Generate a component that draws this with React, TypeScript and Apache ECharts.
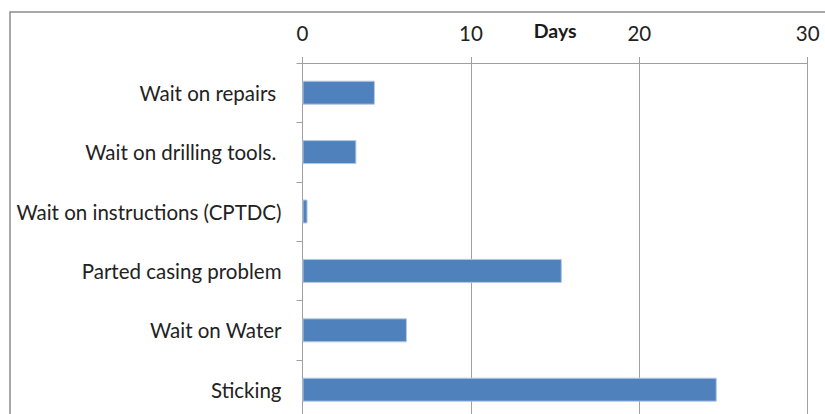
import React, { useEffect, useRef } from "react";
import * as echarts from "echarts";

const categories = [
  "Wait on repairs ",
  "Wait on drilling tools. ",
  "Wait on instructions (CPTDC)",
  "Parted casing problem",
  "Wait on Water",
  "Sticking",
];
const days = [4.3, 3.2, 0.3, 15.4, 6.2, 24.6];
const axisMin = 0;
const axisMax = 30;
const axisInterval = 10;
const axisName = "Days";

export default function App() {
  const ref = useRef<HTMLDivElement>(null);
  useEffect(() => {
    document.body.style.margin = "0";
    const chart = echarts.init(ref.current!, null, { renderer: "svg" });
    chart.setOption({
      animation: false,
      backgroundColor: "#ffffff",
      textStyle: { fontFamily: "Lato" },
      graphic: [
        {
          type: "rect",
          shape: { x: 10, y: 12, width: 840, height: 440 },
          style: { fill: "none", stroke: "#8c8c8c", lineWidth: 1.5 },
          silent: true,
          z: -1,
        },
      ],
      grid: {
        left: 302.5,
        right: 17.3,
        top: 63,
        height: 356.4,
        containLabel: false,
        outerBoundsMode: "none",
      },
      xAxis: {
        type: "value",
        position: "top",
        min: axisMin,
        max: axisMax,
        interval: axisInterval,
        name: axisName,
        nameLocation: "middle",
        nameGap: 23,
        nameMoveOverlap: false,
        nameTextStyle: {
          fontFamily: "Lato",
          fontWeight: "bold",
          fontSize: 19.5,
          color: "#1a1a1a",
          verticalAlign: "bottom",
        },
        axisLine: { show: true, lineStyle: { color: "#a0a0a0", width: 1 } },
        axisTick: { show: true, length: 6, lineStyle: { color: "#a0a0a0" } },
        axisLabel: { fontFamily: "Lato", fontSize: 20.5, color: "#222", margin: 20 },
        splitLine: { show: true, lineStyle: { color: "#a0a0a0", width: 1 } },
      },
      yAxis: {
        type: "category",
        inverse: true,
        data: categories,
        axisLine: { show: true, lineStyle: { color: "#a0a0a0", width: 1 } },
        axisTick: { show: true, length: 6, inside: false, lineStyle: { color: "#a0a0a0" } },
        axisLabel: { fontFamily: "Lato", fontSize: 20.5, color: "#222", margin: 21 },
      },
      series: [
        {
          type: "bar",
          data: days,
          barWidth: 24,
          itemStyle: { color: "#4F81BD", borderColor: "#B3C8E3", borderWidth: 1 },
        },
      ],
    });
    return () => chart.dispose();
  }, []);
  return <div ref={ref} style={{ width: 825, height: 414, overflow: "hidden" }} />;
}
